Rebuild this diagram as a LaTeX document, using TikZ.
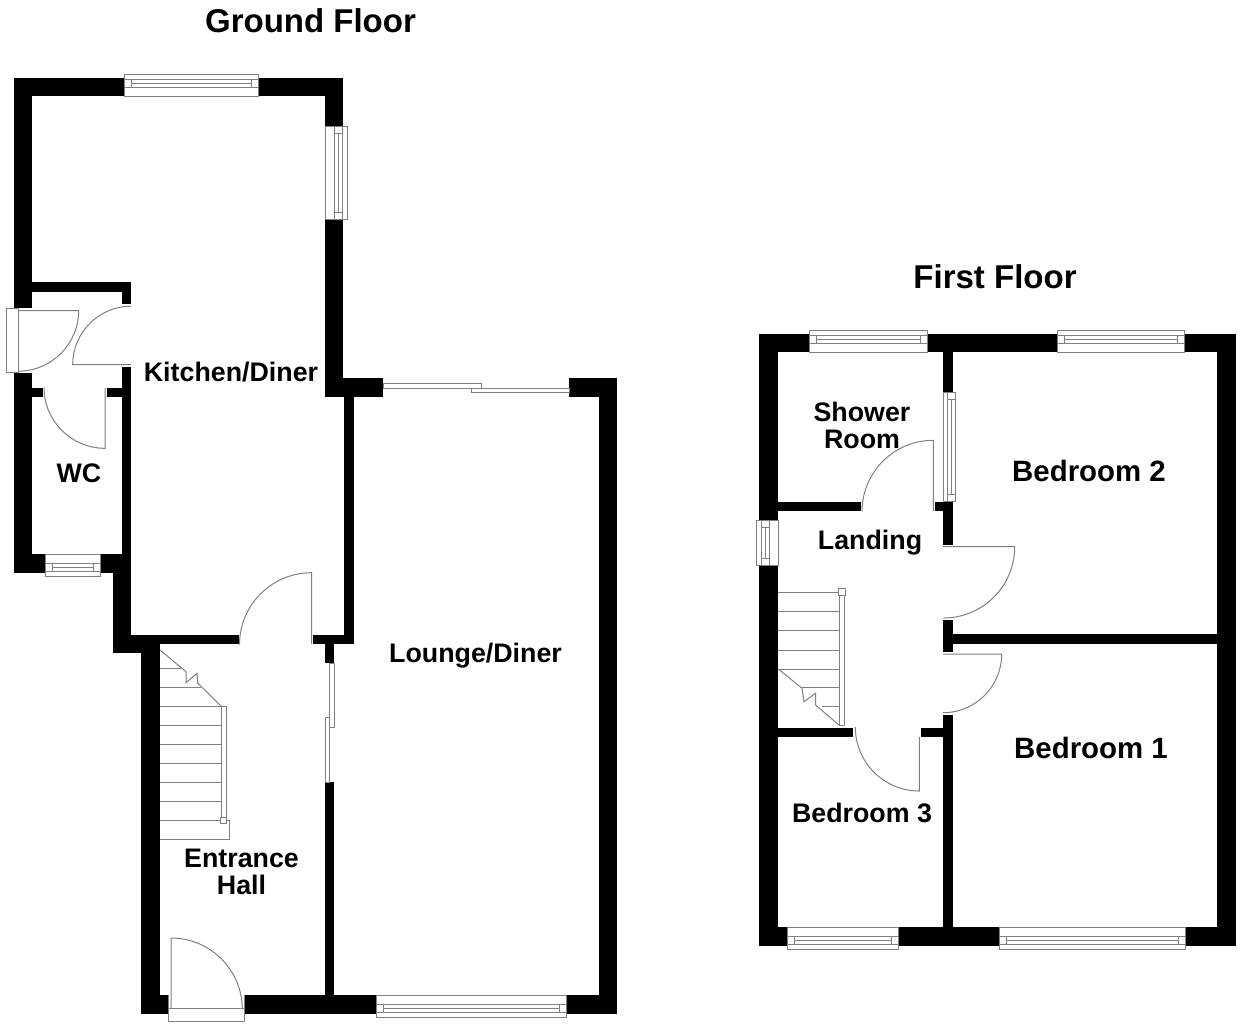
\documentclass[tikz,border=0pt]{standalone}
\usepackage{fontspec}
\setmainfont{Liberation Sans}
\usepackage{tikz}

\newcommand{\winh}[4]{%
    \filldraw[frame] (#1,#3) rectangle (#2,#3+22*#4);
    \draw[frame] (#1,#3+9*#4) -- (#2,#3+9*#4);
    \draw[frame] (#1,#3+17*#4) -- (#2,#3+17*#4);
    \draw[frame] (#1+7,#3+9*#4) -- (#1+7,#3+17*#4);
    \draw[frame] (#2-7,#3+9*#4) -- (#2-7,#3+17*#4);
    \draw[frame] (#1+7,#3+13*#4) -- (#2-7,#3+13*#4);
}
\newcommand{\winv}[4]{%
    \filldraw[frame] (#3,#1) rectangle (#3+22*#4,#2);
    \draw[frame] (#3+9*#4,#1) -- (#3+9*#4,#2);
    \draw[frame] (#3+17*#4,#1) -- (#3+17*#4,#2);
    \draw[frame] (#3+9*#4,#1+7) -- (#3+17*#4,#1+7);
    \draw[frame] (#3+9*#4,#2-7) -- (#3+17*#4,#2-7);
    \draw[frame] (#3+13*#4,#1+7) -- (#3+13*#4,#2-7);
}

\begin{document}
\begin{tikzpicture}[
    x=0.5pt, y=-0.5pt,
    wall/.style={fill=black},
    frame/.style={draw=black!50, line width=0.5pt, fill=white},
    thin line/.style={draw=black!50, line width=0.5pt},
    room/.style={font=\bfseries\fontsize{13.4}{13.4}\selectfont, align=center, inner sep=0pt},
    bigroom/.style={room, font=\bfseries\fontsize{14.7}{14.7}\selectfont},
    title/.style={room, font=\bfseries\fontsize{16.5}{16.5}\selectfont}
]
    \useasboundingbox (0,0) rectangle (1240,1025);

    \fill[wall] (14,78) rectangle (124,96);
    \fill[wall] (258,78) rectangle (343,96);
    \fill[wall] (325,96) rectangle (343,126);
    \fill[wall] (325,219) rectangle (343,397);
    \fill[wall] (325,378) rectangle (383,397);
    \fill[wall] (14,96) rectangle (32,308);
    \fill[wall] (14,373) rectangle (32,573);
    \fill[wall] (14,554) rectangle (45,573);
    \fill[wall] (100,554) rectangle (131,573);
    \fill[wall] (32,282) rectangle (131,291.5);
    \fill[wall] (122,291.5) rectangle (131,304);
    \fill[wall] (32,388) rectangle (43,397.3);
    \fill[wall] (106.7,388) rectangle (122,397.3);
    \fill[wall] (122,366.5) rectangle (131,573);
    \fill[wall] (113,573) rectangle (131,653);
    \fill[wall] (113,634.7) rectangle (239,644);
    \fill[wall] (113,644) rectangle (160,653);
    \fill[wall] (141,653) rectangle (160,1014);
    \fill[wall] (141,995) rectangle (168.7,1014);
    \fill[wall] (244.7,995) rectangle (376,1014);
    \fill[wall] (325,782) rectangle (334,995);
    \fill[wall] (566,995) rectangle (617,1014);
    \fill[wall] (599,397) rectangle (617,995);
    \fill[wall] (569,378) rectangle (617,397);
    \fill[wall] (344,397) rectangle (353.5,644);
    \fill[wall] (313,634.7) rectangle (353.5,644);
    \fill[wall] (325,644) rectangle (334,663);

    \fill[wall] (759.3,333.7) rectangle (809.3,352.3);
    \fill[wall] (927.3,333.7) rectangle (1057.3,352.3);
    \fill[wall] (1184.7,333.7) rectangle (1236,352.3);
    \fill[wall] (759.3,352.3) rectangle (778.3,520);
    \fill[wall] (759.3,565) rectangle (778.3,946);
    \fill[wall] (1217.3,352.3) rectangle (1236,946);
    \fill[wall] (943.3,352.3) rectangle (952.7,392);
    \fill[wall] (778.3,501.7) rectangle (860.7,510.7);
    \fill[wall] (935.3,501.7) rectangle (952.7,510.7);
    \fill[wall] (943.3,510.7) rectangle (952.7,544.7);
    \fill[wall] (943.3,620) rectangle (952.7,652.3);
    \fill[wall] (952.7,634.3) rectangle (1217.3,644);
    \fill[wall] (943.3,714.7) rectangle (952.7,927);
    \fill[wall] (778.3,727.7) rectangle (853.3,736.7);
    \fill[wall] (921.3,727.7) rectangle (943.3,736.7);
    \fill[wall] (759.3,927) rectangle (787.7,946);
    \fill[wall] (898.3,927) rectangle (999.3,946);
    \fill[wall] (1185.3,927) rectangle (1236,946);

    \winh{124}{258}{96}{-1}
    \winv{126}{219}{325}{1}
    \winh{45}{100}{554}{1}
    \winh{376}{566}{995}{1}
    \winh{809.3}{927.3}{352.3}{-1}
    \winh{1057.3}{1184.7}{352.3}{-1}
    \winh{787.7}{898.3}{927}{1}
    \winh{999.3}{1185.3}{927}{1}
    \winv{520}{565}{778.3}{-1}

    \filldraw[frame] (943.6,392) rectangle (955.7,501.7);
    \draw[frame] (947.7,392) -- (947.7,501.7);
    \draw[frame] (947.7,399) -- (955.7,399);
    \draw[frame] (947.7,494) -- (955.7,494);
    \draw[frame] (951.7,399) -- (951.7,494);

    \filldraw[frame] (383,383) rectangle (481,388);
    \filldraw[frame] (471,388) rectangle (569,392);
    \filldraw[frame] (329.5,663) rectangle (334,727);
    \filldraw[frame] (325,717) rectangle (329.5,782);

    \filldraw[frame] (6,308.3) rectangle (18,372.7);
    \draw[thin line] (18,310.5) -- (78.7,310.5) arc (0:90:60.7);
    \draw[thin line] (131,364.7) -- (72.7,364.7) arc (180:270:58.5);
    \draw[thin line] (105,388) -- (105,448.3) arc (90:180:61);
    \draw[thin line] (311.5,644) -- (311.5,572.7) arc (-90:-180:72);
    \draw[thin line] (171,1008.7) -- (171,938) arc (-90:0:71.3);
    \filldraw[frame] (168.7,1008.7) rectangle (244.7,1021);
    \draw[thin line] (168.7,995) -- (168.7,1008.7);
    \draw[thin line] (244.7,995) -- (244.7,1008.7);
    \draw[thin line] (933.3,511) -- (933.3,440.3) arc (-90:-180:71.3);
    \draw[thin line] (943,546.7) -- (1014.7,546.7) arc (0:90:71.3);
    \draw[thin line] (943,654) -- (1001.7,654) arc (0:90:58.7);
    \draw[thin line] (919.3,737) -- (919.3,791) arc (90:180:64);

    \draw[thin line] (160,668) -- (181,668);
    \draw[thin line] (160,687.3) -- (201,687.3);
    \draw[thin line] (160,706.7) -- (221,706.7);
    \draw[thin line] (160,725.7) -- (221,725.7);
    \draw[thin line] (160,744.7) -- (221,744.7);
    \draw[thin line] (160,763.3) -- (221,763.3);
    \draw[thin line] (160,782.3) -- (221,782.3);
    \draw[thin line] (160,801.7) -- (221,801.7);
    \draw[thin line] (160,820.7) -- (229.7,820.7) -- (229.7,839.3) -- (160,839.3);
    \draw[thin line] (160,650) -- (186,671.7) -- (186,682.7) -- (197,673.3) -- (197.7,683) -- (221.7,706.7);
    \filldraw[frame] (221,706.7) rectangle (226,817);
    \filldraw[frame] (220.3,817) rectangle (226.6,823);

    \draw[thin line] (778.3,592.7) -- (839.7,592.7);
    \draw[thin line] (778.3,611.7) -- (839.7,611.7);
    \draw[thin line] (778.3,630.7) -- (839.7,630.7);
    \draw[thin line] (778.3,650) -- (839.7,650);
    \draw[thin line] (778.3,669) -- (839.7,669);
    \draw[thin line] (801,687.7) -- (839.7,687.7);
    \draw[thin line] (822,706.7) -- (839.7,706.7);
    \draw[thin line] (778.3,669) -- (802,688.3) -- (804,701.7) -- (815.5,693.3) -- (815.5,705) -- (839.7,725.7);
    \filldraw[frame] (839.7,595) rectangle (844.7,725.7);
    \filldraw[frame] (838.5,588) rectangle (845,595);

    \node[title] (ground) at (310.5,21) {Ground Floor};
    \node[title] (first) at (995,277) {First Floor};
    \node[room] (kitchen) at (231,372) {Kitchen/Diner};
    \node[room] (lounge) at (475.5,656) {Lounge/Diner};
    \node[room] (hall) at (241.5,872) {Entrance\\[0.4pt]Hall};
    \node[room] (wc) at (79,473) {WC};
    \node[room] (shower) at (862,425.5) {Shower\\[0.3pt]Room};
    \node[room] (landing) at (870,543) {Landing};
    \node[room] (bed3) at (862,813) {Bedroom 3};
    \node[bigroom] (bed2) at (1089,471) {Bedroom 2};
    \node[bigroom] (bed1) at (1091,748) {Bedroom 1};
\end{tikzpicture}
\end{document}
